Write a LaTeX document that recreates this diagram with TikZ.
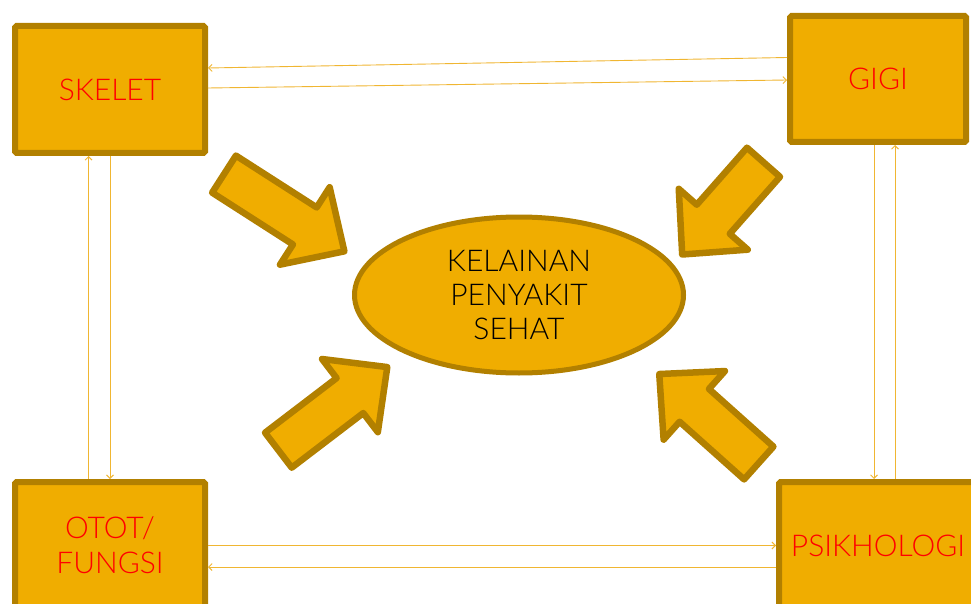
\documentclass[tikz,border=0pt]{standalone}
\usepackage{fontspec}
\setmainfont{Lato}[UprightFont={* Light}]
\usetikzlibrary{arrows.meta,calc,shapes.geometric}
\definecolor{boxfill}{RGB}{240,173,0}
\definecolor{boxline}{RGB}{178,128,0}
\definecolor{linkc}{RGB}{240,182,50}
\definecolor{txtred}{RGB}{255,0,0}
\newcommand{\blockarr}[4]{%
  \begin{scope}[shift={(#1,#2)}, rotate=#3]
    \draw[barrow] (3,-22) -- ({#4-50},-22) -- ({#4-50},-46) -- ({#4-3},0)
      -- ({#4-50},46) -- ({#4-50},22) -- (3,22) -- cycle;
  \end{scope}}
\begin{document}
\begin{tikzpicture}[x=1pt,y=-1pt,
  box/.style={draw=boxline, fill=boxfill, line width=6pt, rounded corners=1.5pt,
    text=txtred, font=\fontsize{30}{35}\selectfont, align=center, inner sep=0pt},
  link/.style={draw=linkc, line width=0.9pt, -{Straight Barb[length=3.5pt,width=7pt]}},
  barrow/.style={draw=boxline, fill=boxfill, line width=6.5pt, line join=round}]
\useasboundingbox (0,0) rectangle (971,604);
\clip (0,0) rectangle (971,604);

\node[box, minimum width=190pt, minimum height=127pt] (skelet) at (110,89.5) {SKELET};
\node[box, minimum width=176pt, minimum height=126pt] (gigi) at (878,79) {GIGI};
\node[box, minimum width=190pt, minimum height=127pt] (otot) at (110,545.5) {OTOT/\\FUNGSI};
\node[box, minimum width=198pt, minimum height=127pt] (psik) at (878,545.5) {PSIKHOLOGI};

\blockarr{221.5}{172.5}{-32.68}{149}
\blockarr{765.5}{160}{-131.4}{129}
\blockarr{276}{452}{37.35}{143}
\blockarr{761}{465}{138.2}{139.5}

\node[draw=boxline, fill=boxfill, line width=5pt, ellipse, minimum width=329pt,
  minimum height=156pt, inner sep=0pt, align=center, text=black,
  font=\fontsize{30}{34}\selectfont] (center) at (519,295) {KELAINAN\\PENYAKIT\\SEHAT};

\draw[link] ($(gigi.west)+(0,-21.5)$) -- ($(skelet.east)+(0,-21.5)$);
\draw[link] ($(skelet.east)+(0,-1.5)$) -- ($(gigi.west)+(0,1)$);
\draw[link] ($(otot.north)+(-21.5,0)$) -- ($(skelet.south)+(-21.5,0)$);
\draw[link] (skelet.south) -- (otot.north);
\draw[link] ($(gigi.south)+(-4,0)$) -- ($(psik.north)+(-4,0)$);
\draw[link] ($(psik.north)+(17,0)$) -- ($(gigi.south)+(17,0)$);
\draw[link] (otot.east) -- (psik.west);
\draw[link] ($(psik.west)+(0,21.5)$) -- ($(otot.east)+(0,21.5)$);
\end{tikzpicture}
\end{document}
